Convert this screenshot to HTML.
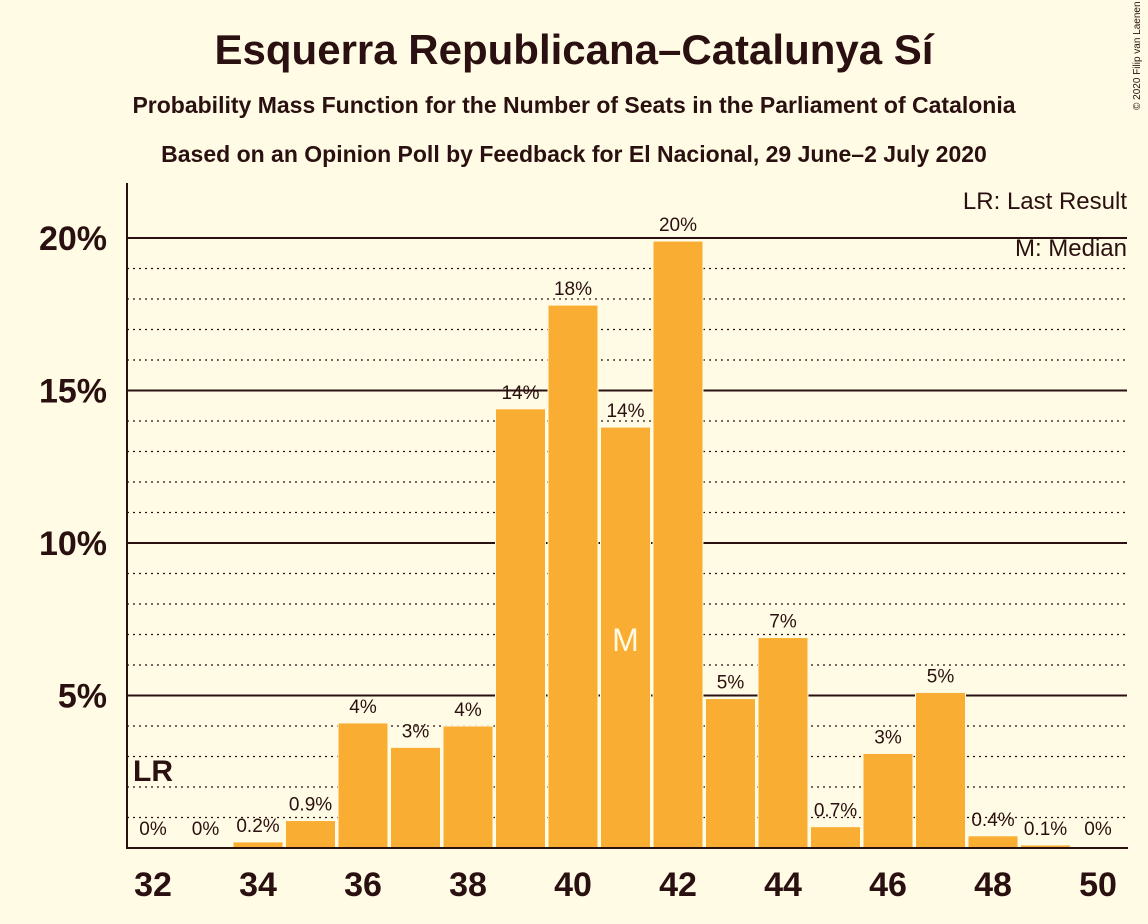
<!DOCTYPE html>
<html><head><meta charset="utf-8"><style>
body{margin:0;background:#FFFBE4;}
svg{display:block;font-family:"Liberation Sans",sans-serif;}
</style></head><body>
<svg id="c" width="1148" height="924" xmlns="http://www.w3.org/2000/svg">
<rect width="1148" height="924" fill="#FFFBE4"/>
<text x="574" y="64" text-anchor="middle" font-size="42" font-weight="bold" fill="#2a1010">Esquerra Republicana–Catalunya Sí</text>
<text x="574" y="113" text-anchor="middle" font-size="23" font-weight="bold" fill="#2a1010">Probability Mass Function for the Number of Seats in the Parliament of Catalonia</text>
<text x="574" y="162" text-anchor="middle" font-size="23" font-weight="bold" fill="#2a1010">Based on an Opinion Poll by Feedback for El Nacional, 29 June–2 July 2020</text>
<text x="1140" y="110" font-size="10" fill="#2a1010" transform="rotate(-90 1140 110)">© 2020 Filip van Laenen</text>
<g id="grid"></g><g id="bars"></g><g id="labels"></g>
<line x1="127" y1="183" x2="127" y2="849" stroke="#2a1010" stroke-width="2"/>
<line x1="126" y1="848" x2="1128" y2="848" stroke="#2a1010" stroke-width="2"/>
<text x="1127" y="209" text-anchor="end" font-size="24" fill="#2a1010">LR: Last Result</text>
<text x="1127" y="256" text-anchor="end" font-size="24" fill="#2a1010">M: Median</text>
</svg>
<script>
const seats=[32,33,34,35,36,37,38,39,40,41,42,43,44,45,46,47,48,49,50];
const probs=[0,0,0.2,0.9,4.1,3.3,4.0,14.4,17.8,13.8,19.9,4.9,6.9,0.7,3.1,5.1,0.4,0.1,0];
const valueLabels=["0%","0%","0.2%","0.9%","4%","3%","4%","14%","18%","14%","20%","5%","7%","0.7%","3%","5%","0.4%","0.1%","0%"];
const yTicks=[5,10,15,20];
const xTicks=[32,34,36,38,40,42,44,46,48,50];
const lastResult=32, median=41;
const NS="http://www.w3.org/2000/svg";
const x=s=>153+(s-32)*52.5;
const y=p=>848-p*30.5;
function mk(t,a,parent,txt){const e=document.createElementNS(NS,t);for(const k in a)e.setAttribute(k,a[k]);if(txt!==undefined)e.textContent=txt;document.getElementById(parent).appendChild(e);return e;}
for(let p=1;p<=20;p++){
 const solid=p%5===0;
 const l=mk('line',{x1:127,x2:1127,y1:y(p),y2:y(p),stroke:'#2a1010','stroke-width':solid?2:1.3,'stroke-dasharray':solid?'':'2,4'},'grid');
 
 
}
yTicks.forEach(t=>{
 const e=mk('text',{x:107,y:y(t)+12,'text-anchor':'end','font-size':34,'font-weight':'bold',fill:'#2a1010'},'labels',t+'%');
 
 
});
xTicks.forEach(t=>{
 const e=mk('text',{x:x(t),y:896,'text-anchor':'middle','font-size':34,'font-weight':'bold',fill:'#2a1010'},'labels',t);
 
 
});
seats.forEach((s,i)=>{
 const v=probs[i];
 if(v>0){
  const r=mk('rect',{x:x(s)-25,y:y(v),width:50,height:848-y(v),fill:'#F9AE33',stroke:'#FFFBE4','stroke-width':1},'bars');
  
  
 }
 const ly=v>0?y(v)-10:835;
 const t=mk('text',{x:x(s),y:ly,'text-anchor':'middle','font-size':19,fill:'#2a1010'},'labels',valueLabels[i]);
 
 
});
const m=mk('text',{x:x(median),y:651,'text-anchor':'middle','font-size':32,fill:'#FFFBE4'},'labels','M');


const lr=mk('text',{x:x(lastResult)-20,y:781,'font-size':30,'font-weight':'bold',fill:'#2a1010'},'labels','LR');


</script>
</body></html>
